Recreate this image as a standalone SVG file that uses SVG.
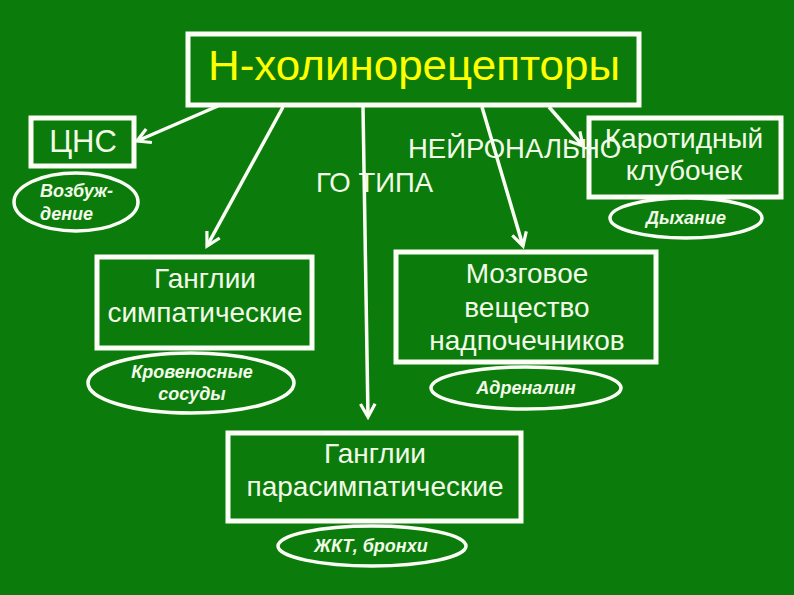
<svg xmlns="http://www.w3.org/2000/svg" width="794" height="595" viewBox="0 0 794 595">
<defs>
<style>
.bg{fill:#0b7b0b}
.box{fill:#0b7b0b;stroke:#fbfff5;stroke-width:5}
.ell{fill:#0b7b0b;stroke:#fbfff5;stroke-width:3.5}
.t{font-family:"Liberation Sans",Arial,sans-serif;fill:#f2fbe8;text-anchor:middle}
.s{font-family:"Liberation Sans",Arial,sans-serif;fill:#f2fbe8;font-weight:bold;font-style:italic;font-size:18px;text-anchor:middle}
.con{stroke:#fbfff5;stroke-width:3.5;fill:none;marker-end:url(#ah)}
</style>
<marker id="ah" viewBox="0 0 12 12" refX="10" refY="6" markerWidth="5" markerHeight="5" orient="auto" markerUnits="strokeWidth">
<path d="M1,1 L10,6 L1,11" fill="none" stroke="#fbfff5" stroke-width="2.2"/>
</marker>
</defs>
<rect class="bg" x="0" y="0" width="794" height="595"/>

<g id="connectors">
<line class="con" x1="218" y1="106" x2="137" y2="141"/>
<line class="con" x1="283" y1="107" x2="207" y2="246"/>
<line class="con" x1="363" y1="107" x2="368" y2="417"/>
<line class="con" x1="482" y1="107" x2="523" y2="246"/>
<line class="con" x1="549" y1="107" x2="583" y2="146"/>
</g>

<g id="main">
<rect class="box" x="188" y="34" width="451" height="71"/>
<text x="414" y="80" font-family="Liberation Sans, Arial, sans-serif" font-size="42" fill="#ffff00" text-anchor="middle" textLength="412" lengthAdjust="spacingAndGlyphs">Н-холинорецепторы</text>
</g>

<g id="cns">
<rect class="box" x="31" y="118" width="103" height="48"/>
<text class="t" x="83" y="152" font-size="31">ЦНС</text>
</g>
<g id="vozb">
<ellipse class="ell" cx="76" cy="202" rx="62" ry="29"/>
<text class="s" x="40" y="197" style="text-anchor:start">Возбуж-</text>
<text class="s" x="40" y="220" style="text-anchor:start">дение</text>
</g>

<g id="karotid">
<rect class="box" x="589" y="118" width="192" height="79"/>
<text class="t" x="684" y="148" font-size="28">Каротидный</text>
<text class="t" x="684" y="180" font-size="28">клубочек</text>
</g>
<g id="dyh">
<ellipse class="ell" cx="686" cy="218" rx="76" ry="20"/>
<text class="s" x="686" y="224">Дыхание</text>
</g>

<g id="label">
<text class="t" x="408" y="158" font-size="27.5" style="text-anchor:start">НЕЙРОНАЛЬНО</text>
<text class="t" x="316" y="192" font-size="27.5" style="text-anchor:start">ГО ТИПА</text>
</g>

<g id="gsymp">
<rect class="box" x="97" y="257" width="215" height="91"/>
<text class="t" x="205" y="288" font-size="28">Ганглии</text>
<text class="t" x="205" y="322" font-size="28">симпатические</text>
</g>
<g id="krov">
<ellipse class="ell" cx="191" cy="383" rx="103" ry="30"/>
<text class="s" x="192" y="378">Кровеносные</text>
<text class="s" x="192" y="400">сосуды</text>
</g>

<g id="mozg">
<rect class="box" x="396" y="252" width="260" height="110"/>
<text class="t" x="527" y="283" font-size="28">Мозговое</text>
<text class="t" x="527" y="317" font-size="28">вещество</text>
<text class="t" x="527" y="350" font-size="28">надпочечников</text>
</g>
<g id="adr">
<ellipse class="ell" cx="526" cy="388" rx="95" ry="21"/>
<text class="s" x="526" y="394">Адреналин</text>
</g>

<g id="gpara">
<rect class="box" x="228" y="433" width="293" height="88"/>
<text class="t" x="375" y="463" font-size="28">Ганглии</text>
<text class="t" x="375" y="496" font-size="28">парасимпатические</text>
</g>
<g id="zhkt">
<ellipse class="ell" cx="372" cy="546" rx="94" ry="20"/>
<text class="s" x="371" y="552">ЖКТ, бронхи</text>
</g>
</svg>
